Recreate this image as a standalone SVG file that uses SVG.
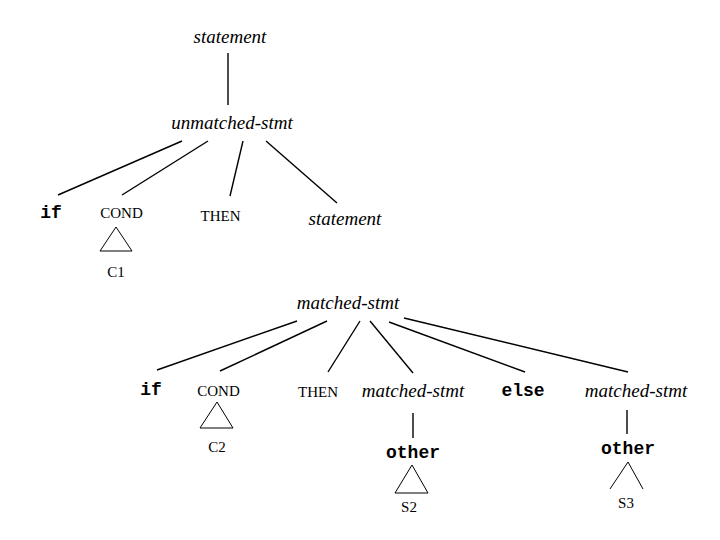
<svg xmlns="http://www.w3.org/2000/svg" width="720" height="540" viewBox="0 0 720 540">
<style>
.nt{font-family:"Liberation Serif","Times New Roman",serif;font-style:italic;font-size:19px;fill:#000;text-anchor:middle}
.tm{font-family:"Liberation Serif","Times New Roman",serif;font-size:15px;fill:#000;text-anchor:middle}
.kw{font-family:"Liberation Mono","Courier New",monospace;font-weight:bold;font-size:18px;fill:#000;text-anchor:middle}
.ln{stroke:#000;stroke-width:1.4;fill:none}
.tri{stroke:#000;stroke-width:1;fill:none}
</style>
<rect width="720" height="540" fill="#fff"/>
<g id="connectors">
<line class="ln" x1="228" y1="53" x2="228" y2="105"/>
<line class="ln" x1="182" y1="141" x2="58" y2="195"/>
<line class="ln" x1="208" y1="141" x2="122" y2="195"/>
<line class="ln" x1="243" y1="141" x2="230" y2="196"/>
<line class="ln" x1="266" y1="141" x2="337" y2="203"/>
<line class="ln" x1="297" y1="321" x2="157" y2="370"/>
<line class="ln" x1="327" y1="321" x2="220" y2="371"/>
<line class="ln" x1="360" y1="321" x2="328" y2="372"/>
<line class="ln" x1="370" y1="321" x2="413" y2="373"/>
<line class="ln" x1="389" y1="322" x2="525" y2="372"/>
<line class="ln" x1="404" y1="318" x2="628" y2="372"/>
<line class="ln" x1="413" y1="413" x2="413" y2="438" stroke-width="2"/>
<line class="ln" x1="627" y1="410" x2="627" y2="434" stroke-width="2"/>
</g>
<g id="statement-root"><text class="nt" x="230" y="43">statement</text></g>
<g id="unmatched-stmt"><text class="nt" x="232" y="129">unmatched-stmt</text></g>
<g id="if1"><text class="kw" x="51" y="218">if</text></g>
<g id="cond1"><text class="tm" x="121.5" y="218">COND</text>
<polygon class="tri" points="116,227 100,251 132,251"/>
<text class="tm" x="116" y="277">C1</text></g>
<g id="then1"><text class="tm" x="220.5" y="221">THEN</text></g>
<g id="statement2"><text class="nt" x="345" y="225" font-size="18">statement</text></g>
<g id="matched-stmt"><text class="nt" x="348" y="309">matched-stmt</text></g>
<g id="if2"><text class="kw" x="151" y="395">if</text></g>
<g id="cond2"><text class="tm" x="218.5" y="396">COND</text>
<polygon class="tri" points="217,402 200,428 233,428"/>
<text class="tm" x="217" y="452">C2</text></g>
<g id="then2"><text class="tm" x="318" y="397">THEN</text></g>
<g id="matched-stmt-left"><text class="nt" x="413" y="397">matched-stmt</text></g>
<g id="else"><text class="kw" x="523" y="396" font-size="19">else</text></g>
<g id="matched-stmt-right"><text class="nt" x="636" y="397">matched-stmt</text></g>
<g id="other-left"><text class="kw" x="413" y="458" font-size="19">other</text>
<polygon class="tri" points="412,465 395,493 428,493"/>
<text class="tm" x="409" y="512">S2</text></g>
<g id="other-right"><text class="kw" x="628" y="454" font-size="19">other</text>
<polyline class="tri" points="610,489 628,462 643,489"/>
<text class="tm" x="626" y="508">S3</text></g>
</svg>
